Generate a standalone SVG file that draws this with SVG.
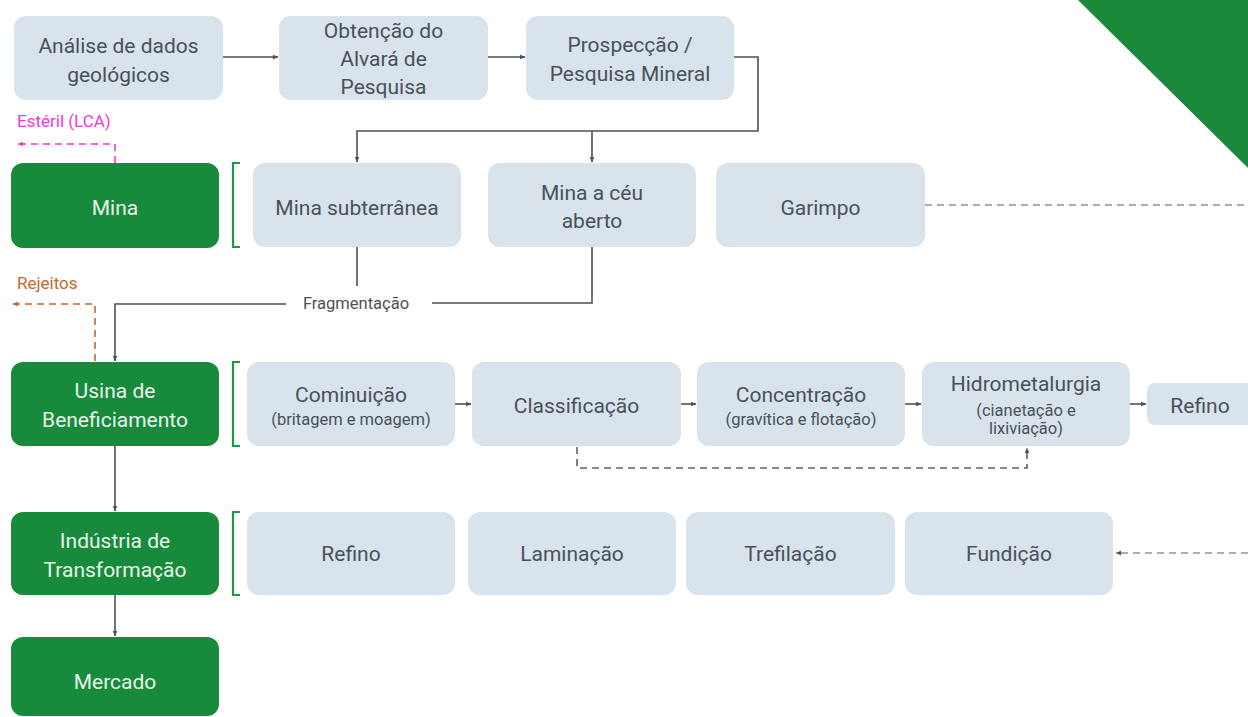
<svg xmlns="http://www.w3.org/2000/svg" width="1248" height="717" viewBox="0 0 1248 717">
  <style>
    .box { fill: #d8e3ec; }
    .stage { fill: #178a3b; }
    .t { font-family: Roboto, "Liberation Sans", sans-serif; font-size: 21px; fill: #4a5159; text-anchor: middle; dominant-baseline: central; }
    .ts { font-family: Roboto, "Liberation Sans", sans-serif; font-size: 16.5px; fill: #4a5159; text-anchor: middle; dominant-baseline: central; }
    .tw { font-family: Roboto, "Liberation Sans", sans-serif; font-size: 21px; fill: #eaf5ec; text-anchor: middle; dominant-baseline: central; }
    .lbl { font-family: Roboto, "Liberation Sans", sans-serif; font-size: 17px; dominant-baseline: central; }
    .line { fill: none; stroke: #4a525a; stroke-width: 1.6; }
    .dash { fill: none; stroke: #8a9299; stroke-width: 1.6; stroke-dasharray: 7 5; }
    .dashdark { fill: none; stroke: #5a6268; stroke-width: 1.6; stroke-dasharray: 7 5; }
    .bracket { fill: none; stroke: #1c9a45; stroke-width: 2.2; }
  </style>
  <defs>
    <marker id="arr" viewBox="0 0 10 10" refX="9" refY="5" markerWidth="6" markerHeight="6" orient="auto" markerUnits="userSpaceOnUse">
      <path d="M0,1 L10,5 L0,9 Z" fill="#4a525a"/>
    </marker>
    <marker id="arrMag" viewBox="0 0 10 10" refX="9" refY="5" markerWidth="6" markerHeight="6" orient="auto" markerUnits="userSpaceOnUse">
      <path d="M0,1 L10,5 L0,9 Z" fill="#ee3ad8"/>
    </marker>
    <marker id="arrRej" viewBox="0 0 10 10" refX="9" refY="5" markerWidth="6" markerHeight="6" orient="auto" markerUnits="userSpaceOnUse">
      <path d="M0,1 L10,5 L0,9 Z" fill="#c4672c"/>
    </marker>
  </defs>

  <rect width="1248" height="717" fill="#ffffff"/>

  <!-- corner accent -->
  <polygon points="1078,0 1248,0 1248,168" fill="#1a8a3a"/>

  <!-- connectors -->
  <g id="connectors">
    <line class="line" x1="223" y1="57" x2="278" y2="57" marker-end="url(#arr)"/>
    <line class="line" x1="488" y1="57" x2="525" y2="57" marker-end="url(#arr)"/>
    <polyline class="line" points="734,57 758,57 758,131 357,131 357,162" marker-end="url(#arr)"/>
    <line class="line" x1="592" y1="131" x2="592" y2="162" marker-end="url(#arr)"/>
    <line class="line" x1="357" y1="247" x2="357" y2="286"/>
    <polyline class="line" points="592,247 592,303 432,303"/>
    <polyline class="line" points="286,304 115,304 115,361" marker-end="url(#arr)"/>
    <line class="line" x1="455" y1="404" x2="471" y2="404" marker-end="url(#arr)"/>
    <line class="line" x1="681" y1="404" x2="696" y2="404" marker-end="url(#arr)"/>
    <line class="line" x1="905" y1="404" x2="921" y2="404" marker-end="url(#arr)"/>
    <line class="line" x1="1130" y1="404" x2="1146" y2="404" marker-end="url(#arr)"/>
    <polyline class="dashdark" points="577,447 577,468 1027,468 1027,448" marker-end="url(#arr)"/>
    <line class="line" x1="115" y1="446" x2="115" y2="511" marker-end="url(#arr)"/>
    <line class="line" x1="115" y1="595" x2="115" y2="636" marker-end="url(#arr)"/>
    <line class="dash" x1="925" y1="205" x2="1248" y2="205"/>
    <line class="dash" x1="1248" y1="553" x2="1116" y2="553" marker-end="url(#arr)"/>
    <polyline fill="none" stroke="#ee3ad8" stroke-width="1.6" stroke-dasharray="7 5" points="115,163 115,144 18,144" marker-end="url(#arrMag)"/>
    <polyline fill="none" stroke="#c4672c" stroke-width="1.6" stroke-dasharray="7 5" points="95,361 95,304 13,304" marker-end="url(#arrRej)"/>
    <text class="ts" x="356" y="303">Fragmentação</text>
  </g>

  <!-- output labels -->
  <text class="lbl" x="17" y="121" fill="#ee3ad8">Estéril (LCA)</text>
  <text class="lbl" x="17" y="283" fill="#c4672c">Rejeitos</text>

  <!-- brackets -->
  <g id="brackets">
    <path class="bracket" d="M240,163 L233,163 L233,247 L240,247"/>
    <path class="bracket" d="M240,362 L233,362 L233,446 L240,446"/>
    <path class="bracket" d="M240,512 L233,512 L233,595 L240,595"/>
  </g>

  <!-- row 1 -->
  <g id="analise">
    <rect class="box" x="14" y="16" width="209" height="84" rx="12"/>
    <text class="t" x="118.5" y="46">Análise de dados</text>
    <text class="t" x="118.5" y="75">geológicos</text>
  </g>
  <g id="alvara">
    <rect class="box" x="279" y="16" width="209" height="84" rx="12"/>
    <text class="t" x="383.5" y="31">Obtenção do</text>
    <text class="t" x="383.5" y="59">Alvará de</text>
    <text class="t" x="383.5" y="87">Pesquisa</text>
  </g>
  <g id="prospeccao">
    <rect class="box" x="526" y="16" width="208" height="84" rx="12"/>
    <text class="t" x="630" y="45">Prospecção /</text>
    <text class="t" x="630" y="74">Pesquisa Mineral</text>
  </g>

  <!-- row 2: mina -->
  <g id="mina">
    <rect class="stage" x="11" y="163" width="208" height="85" rx="12"/>
    <text class="tw" x="115" y="208">Mina</text>
  </g>
  <g id="mina-subterranea">
    <rect class="box" x="253" y="163" width="208" height="84" rx="12"/>
    <text class="t" x="357" y="208">Mina subterrânea</text>
  </g>
  <g id="mina-ceu-aberto">
    <rect class="box" x="488" y="163" width="208" height="84" rx="12"/>
    <text class="t" x="592" y="193">Mina a céu</text>
    <text class="t" x="592" y="221">aberto</text>
  </g>
  <g id="garimpo">
    <rect class="box" x="716" y="163" width="209" height="84" rx="12"/>
    <text class="t" x="820.5" y="208">Garimpo</text>
  </g>

  <!-- row 3: usina -->
  <g id="usina">
    <rect class="stage" x="11" y="362" width="208" height="84" rx="12"/>
    <text class="tw" x="115" y="391">Usina de</text>
    <text class="tw" x="115" y="420">Beneficiamento</text>
  </g>
  <g id="cominuicao">
    <rect class="box" x="247" y="362" width="208" height="84" rx="12"/>
    <text class="t" x="351" y="395">Cominuição</text>
    <text class="ts" x="351" y="419">(britagem e moagem)</text>
  </g>
  <g id="classificacao">
    <rect class="box" x="472" y="362" width="209" height="84" rx="12"/>
    <text class="t" x="576.5" y="406">Classificação</text>
  </g>
  <g id="concentracao">
    <rect class="box" x="697" y="362" width="208" height="84" rx="12"/>
    <text class="t" x="801" y="395">Concentração</text>
    <text class="ts" x="801" y="419">(gravítica e flotação)</text>
  </g>
  <g id="hidrometalurgia">
    <rect class="box" x="922" y="362" width="208" height="84" rx="12"/>
    <text class="t" x="1026" y="384">Hidrometalurgia</text>
    <text class="ts" x="1026" y="410">(cianetação e</text>
    <text class="ts" x="1026" y="428">lixiviação)</text>
  </g>
  <g id="refino-usina">
    <rect class="box" x="1147" y="383" width="120" height="42" rx="8"/>
    <text class="t" x="1200" y="406">Refino</text>
  </g>

  <!-- row 4: industria -->
  <g id="industria">
    <rect class="stage" x="11" y="512" width="208" height="83" rx="12"/>
    <text class="tw" x="115" y="541">Indústria de</text>
    <text class="tw" x="115" y="570">Transformação</text>
  </g>
  <g id="refino">
    <rect class="box" x="247" y="512" width="208" height="83" rx="12"/>
    <text class="t" x="351" y="554">Refino</text>
  </g>
  <g id="laminacao">
    <rect class="box" x="468" y="512" width="208" height="83" rx="12"/>
    <text class="t" x="572" y="554">Laminação</text>
  </g>
  <g id="trefilacao">
    <rect class="box" x="686" y="512" width="209" height="83" rx="12"/>
    <text class="t" x="790.5" y="554">Trefilação</text>
  </g>
  <g id="fundicao">
    <rect class="box" x="905" y="512" width="208" height="83" rx="12"/>
    <text class="t" x="1009" y="554">Fundição</text>
  </g>

  <!-- row 5: mercado -->
  <g id="mercado">
    <rect class="stage" x="11" y="637" width="208" height="79" rx="12"/>
    <text class="tw" x="115" y="682">Mercado</text>
  </g>
</svg>
